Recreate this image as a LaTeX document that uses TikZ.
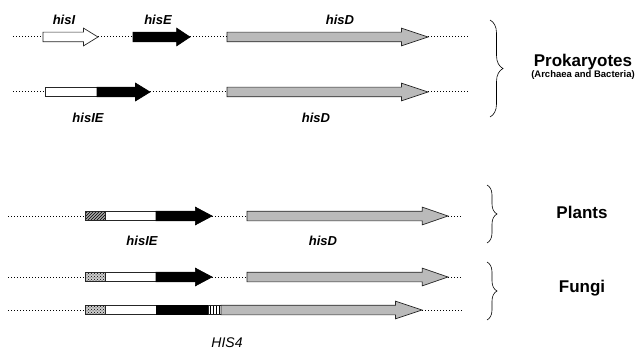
\documentclass[tikz,border=0pt]{standalone}
\usepackage{fontspec}
\setmainfont{Liberation Sans}
\usetikzlibrary{positioning,shapes.arrows,patterns,decorations.pathreplacing}

\begin{document}
\begin{tikzpicture}[
            x=1pt, y=-1pt,
            gene/.style={single arrow, draw=black!85, line width=0.7pt, inner xsep=0pt, inner ysep=4.5pt, outer sep=0pt, minimum width=17pt, single arrow head extend=4pt, anchor=tail},
            whitegene/.style={gene, fill=white},
            blackgene/.style={gene, fill=black, draw=black},
            graygene/.style={gene, fill=black!27, single arrow tip angle=37},
            segment/.style={rectangle, draw=black!85, line width=0.7pt, minimum height=9pt, inner sep=0pt, outer sep=0pt, anchor=west},
            spacer/.style={dotted, line width=1pt},
            glabel/.style={font=\fontsize{13}{15}\selectfont\bfseries\itshape},
            group/.style={font=\fontsize{17}{20}\selectfont\bfseries},
            bracket/.style={decorate, decoration={brace, amplitude=10pt}, line width=0.6pt}
        ]
            \useasboundingbox (0,0) rectangle (640,350);

            % prokaryotes, separate genes
            \coordinate (r1s) at (13,37);
            \coordinate (r1e) at (468,37);
            \node[whitegene, minimum height=55pt, single arrow tip angle=63] (hisI) at (43,37) {};
            \node[blackgene, minimum height=57pt, single arrow tip angle=67] (hisE) at (133,37) {};
            \node[graygene, minimum height=201pt] (hisD1) at (227,37) {};
            \draw[spacer] (r1s) -- (hisI.tail);
            \draw[spacer] (hisI.tip) -- (hisE.tail);
            \draw[spacer] (hisE.tip) -- (hisD1.tail);
            \draw[spacer] (hisD1.tip) -- (r1e);

            % prokaryotes, fused hisIE
            \coordinate (r2s) at (13,92);
            \coordinate (r2e) at (468,92);
            \node[segment, fill=white, minimum width=52pt] (IE2w) at (45,92) {};
            \node[blackgene, minimum height=53pt, single arrow tip angle=63] (IE2b) at (IE2w.east) {};
            \node[graygene, minimum height=201pt] (hisD2) at (227,92) {};
            \draw[spacer] (r2s) -- (IE2w.west);
            \draw[spacer] (IE2b.tip) -- (hisD2.tail);
            \draw[spacer] (hisD2.tip) -- (r2e);

            % plants
            \coordinate (r3s) at (8,216);
            \coordinate (r3e) at (462,216);
            \node[segment, preaction={fill=black!35}, pattern=north east lines, minimum width=20pt] (IE3p) at (85,216) {};
            \node[segment, fill=white, minimum width=51pt, right=0pt of IE3p] (IE3w) {};
            \node[blackgene, minimum height=56pt, single arrow tip angle=56] (IE3b) at (IE3w.east) {};
            \node[graygene, minimum height=201pt, single arrow tip angle=38] (hisD3) at (247,216) {};
            \draw[spacer] (r3s) -- (IE3p.west);
            \draw[spacer] (IE3b.tip) -- (hisD3.tail);
            \draw[spacer] (hisD3.tip) -- (r3e);

            % fungi, two genes
            \coordinate (r4s) at (8,277);
            \coordinate (r4e) at (462,277);
            \node[segment, preaction={fill=black!20}, pattern=crosshatch dots, minimum width=20pt] (IE4p) at (85,277) {};
            \node[segment, fill=white, minimum width=51pt, right=0pt of IE4p] (IE4w) {};
            \node[blackgene, minimum height=56pt, single arrow tip angle=56] (IE4b) at (IE4w.east) {};
            \node[graygene, minimum height=201pt, single arrow tip angle=38] (hisD4) at (247,277) {};
            \draw[spacer] (r4s) -- (IE4p.west);
            \draw[spacer] (IE4b.tip) -- (hisD4.tail);
            \draw[spacer] (hisD4.tip) -- (r4e);

            % fungi, HIS4
            \coordinate (r5s) at (8,310);
            \coordinate (r5e) at (462,310);
            \node[segment, preaction={fill=black!20}, pattern=crosshatch dots, minimum width=20pt] (H4p) at (85,310) {};
            \node[segment, fill=white, minimum width=51pt, right=0pt of H4p] (H4w) {};
            \node[segment, fill=black, draw=black, minimum width=52pt, right=0pt of H4w] (H4b) {};
            \node[segment, fill=white, pattern=vertical lines, minimum width=13pt, right=0pt of H4b] (H4v) {};
            \node[graygene, minimum height=201pt] (H4d) at (H4v.east) {};
            \draw[spacer] (r5s) -- (H4p.west);
            \draw[spacer] (H4d.tip) -- (r5e);

            % gene names
            \node[glabel] (lhisI) at (64,20) {hisI};
            \node[glabel] (lhisE) at (158,20) {hisE};
            \node[glabel] (lhisD1) at (340,20) {hisD};
            \node[glabel] (lhisIE2) at (88,118) {hisIE};
            \node[glabel] (lhisD2) at (316,118) {hisD};
            \node[glabel] (lhisIE3) at (142,241) {hisIE};
            \node[glabel] (lhisD3) at (323,241) {hisD};
            \node[font=\fontsize{14}{16}\selectfont\itshape] (lHIS4) at (227,343) {HIS4};

            % groups
            \draw[bracket, decoration={amplitude=13pt}] (490,20) -- (490,117);
            \draw[bracket] (487,185) -- (487,243);
            \draw[bracket] (487,262) -- (487,320);
            \node[group] (prok) at (583,62) {Prokaryotes};
            \node[font=\fontsize{9.5}{11}\selectfont\bfseries] (prokx) at (583,75) {(Archaea and Bacteria)};
            \node[group] (plants) at (582,212) {Plants};
            \node[group] (fungi) at (582,288) {Fungi};
        \end{tikzpicture}
\end{document}
